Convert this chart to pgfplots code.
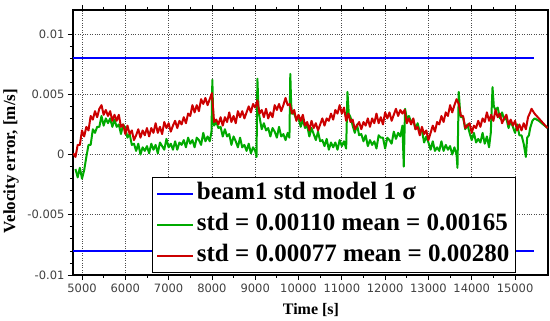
\documentclass[border=0pt]{standalone}
\usepackage{pgfplots}
\pgfplotsset{compat=1.18}
\usepackage{fontspec}
\setmainfont{Liberation Serif}
\newfontfamily\tickfont{DejaVu Sans}
\definecolor{mygreen}{RGB}{0,170,0}
\definecolor{myred}{RGB}{204,0,0}
\definecolor{myblue}{RGB}{0,0,255}
\begin{document}
\begin{tikzpicture}[x=1pt,y=1pt]
\path[use as bounding box] (0,0) rectangle (550,321);
\begin{axis}[
  at={(73pt,46pt)}, anchor=south west,
  scale only axis, width=475pt, height=265pt,
  xmin=4792, xmax=15761, ymin=-0.01, ymax=0.012,
  xtick={5000,6000,...,15000},
  xticklabels={5000,6000,7000,8000,9000,10000,11000,12000,13000,14000,15000},
  ytick={-0.01,-0.005,0,0.005,0.01},
  yticklabels={-0.01,-0.005,0,0.005,0.01},
  scaled x ticks=false, scaled y ticks=false,
  minor x tick num=1, minor y tick num=4,
  xtick pos=both, ytick pos=left, tick align=outside,
  major tick length=5pt, minor tick length=3pt,
  tick style={black, line width=0.8pt},
  axis line style={line width=1.2pt},
  grid=major, major grid style={dotted, black!70, line width=0.8pt},
  tick label style={font=\tickfont\fontsize{11.5}{14}\selectfont, text=black!75},
  xlabel={Time [s]}, ylabel={Velocity error, [m/s]},
  xlabel style={font=\bfseries\fontsize{16}{18}\selectfont, at={(axis description cs:0.501,-0.132)}, anchor=center},
  ylabel style={font=\bfseries\fontsize{17}{19}\selectfont, at={(axis description cs:-0.1305,0.43)}, anchor=center},
  legend style={at={(axis description cs:0.9326,0.0075)}, anchor=south east, font=\bfseries\fontsize{25}{28}\selectfont, draw=black, line width=1.2pt, fill=white, inner xsep=4pt, inner ysep=3pt, row sep=4pt, column sep=1pt, nodes={inner sep=2pt, text height=17pt, text depth=6pt}},
  legend cell align=left,
  legend image code/.code={\draw[#1, line width=1.5pt] (0pt,0pt) -- (36pt,0pt);},
]
\addplot[myblue, line width=1.5pt] coordinates {(4792,0.008) (15430,0.008)};
\addlegendentry{beam1 std model 1 σ}
\addplot[myblue, line width=1.5pt, forget plot] coordinates {(4792,-0.008) (15430,-0.008)};
\addplot[mygreen, line width=2pt, line join=round] table {
4850 -0.0012
4900 -0.0019
4950 -0.0011
5000 -0.0020
5050 -0.0013
5100 -0.0002
5150 0.0008
5200 0.0008
5250 0.0021
5300 0.0018
5350 0.0023
5400 0.0023
5450 0.0032
5500 0.0024
5550 0.0030
5600 0.0026
5650 0.0030
5700 0.0023
5750 0.0029
5800 0.0023
5850 0.0025
5900 0.0017
5950 0.0025
6000 0.0022
6050 0.0014
6100 0.0017
6150 0.0008
6200 0.0009
6250 0.0003
6300 0.0009
6350 0.0000
6400 0.0006
6450 0.0003
6500 0.0007
6550 0.0001
6600 0.0009
6650 0.0004
6700 0.0008
6750 0.0001
6800 0.0010
6850 0.0007
6900 0.0004
6950 0.0013
7000 0.0006
7050 0.0009
7100 0.0004
7150 0.0011
7200 0.0004
7250 0.0010
7300 0.0008
7350 0.0012
7400 0.0006
7450 0.0014
7500 0.0009
7550 0.0012
7600 0.0006
7650 0.0014
7700 0.0012
7750 0.0008
7800 0.0018
7850 0.0011
7900 0.0015
7950 0.0011
7990 0.0019
8010 0.0062
8030 0.0030
8050 0.0024
8100 0.0027
8150 0.0022
8200 0.0023
8250 0.0015
8300 0.0021
8350 0.0015
8400 0.0017
8450 0.0008
8500 0.0015
8550 0.0011
8600 0.0006
8650 0.0014
8700 0.0006
8750 0.0008
8800 0.0003
8850 0.0009
8900 0.0001
8950 0.0006
9000 0.0003
9030 -0.0002
9050 0.0063
9080 0.0035
9100 0.0031
9150 0.0021
9200 0.0026
9250 0.0020
9300 0.0022
9350 0.0015
9400 0.0022
9450 0.0019
9500 0.0014
9550 0.0023
9600 0.0015
9650 0.0017
9700 0.0012
9750 0.0018
9790 0.0014
9810 0.0067
9830 0.0042
9850 0.0034
9900 0.0034
9950 0.0029
10000 0.0031
10050 0.0023
10100 0.0029
10150 0.0022
10200 0.0024
10250 0.0015
10300 0.0022
10350 0.0017
10400 0.0012
10450 0.0019
10500 0.0011
10550 0.0012
10600 0.0007
10650 0.0013
10700 0.0004
10750 0.0010
10800 0.0006
10850 0.0010
10900 0.0004
10950 0.0012
11000 0.0007
11050 0.0011
11100 0.0005
11130 0.0052
11160 0.0034
11200 0.0031
11250 0.0024
11300 0.0018
11350 0.0025
11400 0.0016
11450 0.0017
11500 0.0011
11550 0.0016
11600 0.0007
11650 0.0012
11700 0.0008
11750 0.0011
11800 0.0005
11850 0.0016
11900 0.0014
11950 0.0014
12000 0.0005
12050 0.0014
12100 0.0012
12150 0.0009
12200 0.0019
12250 0.0013
12300 0.0018
12350 0.0015
12400 0.0024
12430 -0.0010
12460 0.0038
12500 0.0030
12550 0.0032
12600 0.0027
12650 0.0029
12700 0.0021
12750 0.0026
12800 0.0019
12850 0.0020
12900 0.0010
12950 0.0015
13000 0.0010
13050 0.0004
13100 0.0011
13150 0.0003
13200 0.0006
13250 0.0003
13300 0.0011
13350 0.0003
13400 0.0008
13450 0.0004
13500 0.0007
13550 0.0000
13600 0.0006
13650 0.0000
13670 -0.0011
13700 0.0052
13730 0.0036
13750 0.0031
13800 0.0031
13850 0.0021
13900 0.0025
13950 0.0018
14000 0.0012
14050 0.0018
14100 0.0010
14150 0.0013
14200 0.0010
14250 0.0018
14300 0.0009
14350 0.0015
14400 0.0006
14440 0.0018
14480 0.0056
14510 0.0040
14550 0.0037
14600 0.0039
14650 0.0030
14700 0.0035
14750 0.0029
14800 0.0030
14850 0.0022
14900 0.0028
14950 0.0023
15000 0.0018
15050 0.0025
15100 0.0016
15150 0.0016
15200 0.0009
15250 -0.0002
15280 0.0014
15320 0.0016
15350 0.0022
15400 0.0028
15450 0.0030
15550 0.0028
15650 0.0025
15750 0.0022
};
\addlegendentry{std = 0.00110 mean = 0.00165}
\addplot[myred, line width=2pt, line join=round] table {
4800 0.0001
4850 -0.0002
4900 0.0008
4950 0.0008
5000 0.0020
5050 0.0015
5100 0.0023
5150 0.0020
5200 0.0032
5250 0.0029
5300 0.0036
5350 0.0031
5400 0.0038
5450 0.0041
5500 0.0033
5550 0.0037
5600 0.0032
5650 0.0036
5700 0.0028
5750 0.0033
5800 0.0028
5850 0.0033
5900 0.0023
5950 0.0025
6000 0.0017
6050 0.0024
6100 0.0017
6150 0.0020
6200 0.0012
6250 0.0016
6300 0.0021
6350 0.0014
6400 0.0020
6450 0.0016
6500 0.0022
6550 0.0015
6600 0.0022
6650 0.0018
6700 0.0026
6750 0.0018
6800 0.0023
6850 0.0017
6900 0.0027
6950 0.0022
7000 0.0026
7050 0.0019
7100 0.0024
7150 0.0028
7200 0.0022
7250 0.0028
7300 0.0025
7350 0.0031
7400 0.0026
7450 0.0034
7500 0.0032
7550 0.0041
7600 0.0035
7650 0.0041
7700 0.0036
7750 0.0046
7800 0.0042
7850 0.0047
7900 0.0041
7950 0.0046
8000 0.0051
8050 0.0027
8100 0.0029
8150 0.0025
8200 0.0031
8250 0.0024
8300 0.0031
8350 0.0027
8400 0.0035
8450 0.0027
8500 0.0032
8550 0.0026
8600 0.0036
8650 0.0031
8700 0.0036
8750 0.0030
8800 0.0035
8850 0.0040
8900 0.0035
8950 0.0042
9000 0.0039
9050 0.0045
9100 0.0034
9150 0.0037
9200 0.0031
9250 0.0038
9300 0.0030
9350 0.0035
9400 0.0031
9450 0.0041
9500 0.0037
9550 0.0042
9600 0.0036
9650 0.0041
9700 0.0047
9750 0.0041
9800 0.0042
9850 0.0034
9900 0.0037
9950 0.0028
10000 0.0033
10050 0.0028
10100 0.0033
10150 0.0024
10200 0.0027
10250 0.0020
10300 0.0028
10350 0.0022
10400 0.0026
10450 0.0020
10500 0.0025
10550 0.0030
10600 0.0024
10650 0.0030
10700 0.0028
10750 0.0034
10800 0.0029
10850 0.0037
10900 0.0034
10950 0.0041
11000 0.0034
11050 0.0039
11100 0.0028
11150 0.0034
11200 0.0027
11250 0.0029
11300 0.0021
11350 0.0024
11400 0.0027
11450 0.0021
11500 0.0027
11550 0.0024
11600 0.0030
11650 0.0023
11700 0.0030
11750 0.0026
11800 0.0034
11850 0.0026
11900 0.0031
11950 0.0025
12000 0.0035
12050 0.0030
12100 0.0035
12150 0.0028
12200 0.0033
12250 0.0038
12300 0.0032
12350 0.0037
12400 0.0034
12450 0.0037
12500 0.0026
12550 0.0030
12600 0.0025
12650 0.0030
12700 0.0021
12750 0.0023
12800 0.0016
12850 0.0023
12900 0.0017
12950 0.0020
13000 0.0012
13050 0.0018
13100 0.0024
13150 0.0019
13200 0.0027
13250 0.0025
13300 0.0032
13350 0.0027
13400 0.0035
13450 0.0032
13500 0.0041
13550 0.0035
13600 0.0041
13650 0.0046
13700 0.0042
13750 0.0032
13800 0.0032
13850 0.0022
13900 0.0024
13950 0.0026
14000 0.0018
14050 0.0024
14100 0.0022
14150 0.0028
14200 0.0023
14250 0.0030
14300 0.0027
14350 0.0035
14400 0.0028
14450 0.0033
14500 0.0028
14550 0.0037
14600 0.0031
14650 0.0034
14700 0.0026
14750 0.0030
14800 0.0033
14850 0.0025
14900 0.0029
14950 0.0024
15000 0.0028
15050 0.0020
15100 0.0025
15150 0.0020
15200 0.0026
15250 0.0021
15300 0.0031
15350 0.0035
15380 0.0038
15450 0.0034
15550 0.0030
15650 0.0026
15750 0.0022
};
\addlegendentry{std = 0.00077 mean = 0.00280}
\end{axis}
\end{tikzpicture}
\end{document}
